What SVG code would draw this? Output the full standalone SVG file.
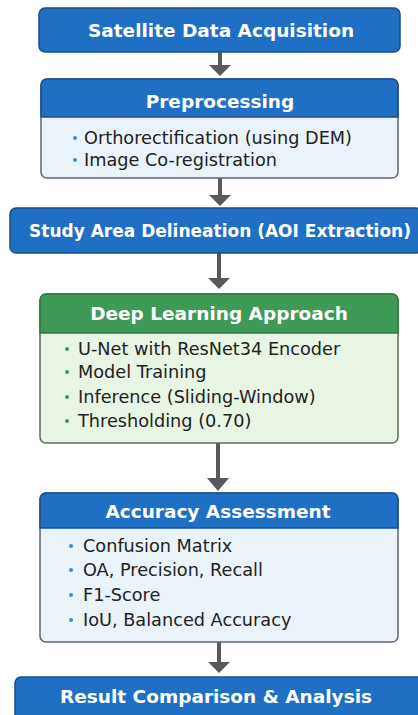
<svg xmlns="http://www.w3.org/2000/svg" width="418" height="715" viewBox="0 0 418 715">
  <style>
    .blue { fill: #1f6fc4; stroke: #1a4f8c; stroke-width: 1.5; }
    .green { fill: #3f9a56; stroke: #2f7a42; stroke-width: 1.5; }
    .bodyB { fill: #eaf2fa; stroke: #5f6670; stroke-width: 1.5; }
    .bodyG { fill: #e8f4e4; stroke: #5f6a60; stroke-width: 1.5; }
    .title { font-family: "DejaVu Sans", "Noto Sans", sans-serif; font-weight: bold; font-size: 18.5px; fill: #ffffff; text-anchor: middle; }
    .item { font-family: "DejaVu Sans", "Noto Sans", sans-serif; font-size: 17.7px; fill: #222222; }
    .dotB { fill: #3a8fd0; }
    .dotG { fill: #3f9a56; }
    .shaft { stroke: #595959; stroke-width: 4; }
    .head { fill: #595959; }
  </style>
  <rect width="418" height="715" fill="#ffffff"/>

  <!-- connectors -->
  <g id="connectors">
    <line class="shaft" x1="220" y1="52" x2="220" y2="66"/>
    <polygon class="head" points="209,65 231,65 220,76"/>
    <line class="shaft" x1="220" y1="178" x2="220" y2="196"/>
    <polygon class="head" points="209,195 231,195 220,206"/>
    <line class="shaft" x1="219" y1="253" x2="219" y2="279"/>
    <polygon class="head" points="208,278 230,278 219,289"/>
    <line class="shaft" x1="218" y1="443" x2="218" y2="479"/>
    <polygon class="head" points="207,478 229,478 218,491"/>
    <line class="shaft" x1="219" y1="642" x2="219" y2="664"/>
    <polygon class="head" points="208,662 230,662 219,673"/>
  </g>

  <!-- step 1 -->
  <g id="acquisition">
    <rect class="blue" x="39" y="8" width="361" height="44" rx="6"/>
    <text class="title" x="221" y="37">Satellite Data Acquisition</text>
  </g>

  <!-- step 2 -->
  <g id="preprocessing">
    <rect class="bodyB" x="41" y="79" width="357" height="99" rx="6"/>
    <path class="blue" d="M41,117 V85 a6,6 0 0 1 6,-6 H392 a6,6 0 0 1 6,6 V117 Z"/>
    <text class="title" x="220" y="108">Preprocessing</text>
    <circle class="dotB" cx="75" cy="138" r="2"/>
    <text class="item" x="84" y="144">Orthorectification (using DEM)</text>
    <circle class="dotB" cx="75" cy="160" r="2"/>
    <text class="item" x="84" y="166">Image Co-registration</text>
  </g>

  <!-- step 3 -->
  <g id="study-area">
    <rect class="blue" x="10" y="208" width="412" height="45" rx="6"/>
    <text class="title" style="font-size:17px" x="220" y="237">Study Area Delineation (AOI Extraction)</text>
  </g>

  <!-- step 4 -->
  <g id="deep-learning">
    <rect class="bodyG" x="40" y="294" width="358" height="149" rx="6"/>
    <path class="green" d="M40,333 V300 a6,6 0 0 1 6,-6 H392 a6,6 0 0 1 6,6 V333 Z"/>
    <text class="title" x="219" y="320">Deep Learning Approach</text>
    <circle class="dotG" cx="67" cy="349" r="2"/>
    <text class="item" x="78" y="355">U-Net with ResNet34 Encoder</text>
    <circle class="dotG" cx="67" cy="372" r="2"/>
    <text class="item" x="78" y="378">Model Training</text>
    <circle class="dotG" cx="67" cy="397" r="2"/>
    <text class="item" x="78" y="403">Inference (Sliding-Window)</text>
    <circle class="dotG" cx="67" cy="421" r="2"/>
    <text class="item" x="78" y="427">Thresholding (0.70)</text>
  </g>

  <!-- step 5 -->
  <g id="accuracy">
    <rect class="bodyB" x="40" y="493" width="358" height="149" rx="6"/>
    <path class="blue" d="M40,528 V499 a6,6 0 0 1 6,-6 H392 a6,6 0 0 1 6,6 V528 Z"/>
    <text class="title" x="218" y="518">Accuracy Assessment</text>
    <circle class="dotB" cx="71" cy="546" r="2"/>
    <text class="item" x="83" y="552">Confusion Matrix</text>
    <circle class="dotB" cx="71" cy="570" r="2"/>
    <text class="item" x="83" y="576">OA, Precision, Recall</text>
    <circle class="dotB" cx="71" cy="595" r="2"/>
    <text class="item" x="83" y="601">F1-Score</text>
    <circle class="dotB" cx="71" cy="620" r="2"/>
    <text class="item" x="83" y="626">IoU, Balanced Accuracy</text>
  </g>

  <!-- step 6 -->
  <g id="comparison">
    <rect class="blue" x="15" y="677" width="410" height="50" rx="6"/>
    <text class="title" x="216" y="703">Result Comparison &amp; Analysis</text>
  </g>
</svg>
